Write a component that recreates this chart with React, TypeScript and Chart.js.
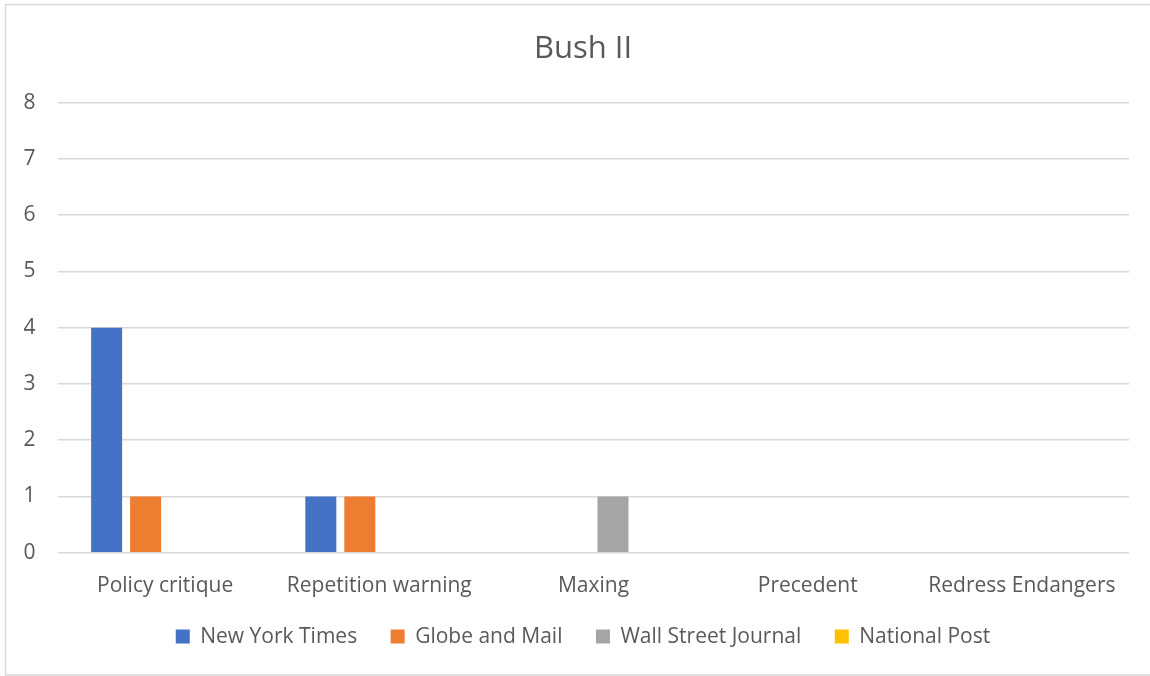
import { useEffect, useRef } from "react";
import { Chart, registerables } from "chart.js";

Chart.register(...registerables);

// Categories along the x axis
const categories = [
  "Policy critique",
  "Repetition warning",
  "Maxing",
  "Precedent",
  "Redress Endangers",
];

// One array of counts per newspaper
const newYorkTimes = [4, 1, 0, 0, 0];
const globeAndMail = [1, 1, 0, 0, 0];
const wallStreetJournal = [0, 0, 1, 0, 0];
const nationalPost = [0, 0, 0, 0, 0];

const seriesNames = ["New York Times", "Globe and Mail", "Wall Street Journal", "National Post"];
const seriesColors = ["#4472C4", "#ED7D31", "#A5A5A5", "#FFC000"];

// Value axis
const yMin = 0;
const yMax = 8;
const yStep = 1;

const chartTitle = "Bush II";

const FONT = "'Open Sans', 'Noto Sans', sans-serif";
const TEXT_COLOR = "#595959";
const GRID_COLOR = "#D9D9D9";

// Light frame around the whole chart
const framePlugin = {
  id: "frame",
  beforeDraw(chart: Chart) {
    const ctx = chart.ctx;
    ctx.save();
    ctx.fillStyle = "#FFFFFF";
    ctx.fillRect(0, 0, chart.width, chart.height);
    ctx.strokeStyle = GRID_COLOR;
    ctx.lineWidth = 1.5;
    ctx.strokeRect(5.5, 4.5, chart.width + 10, 670.5);
    ctx.restore();
  },
};

export default function App() {
  const canvasRef = useRef<HTMLCanvasElement | null>(null);

  useEffect(() => {
    if (!canvasRef.current) return;
    const seriesData = [newYorkTimes, globeAndMail, wallStreetJournal, nationalPost];
    const chart = new Chart(canvasRef.current, {
      type: "bar",
      data: {
        labels: categories,
        datasets: seriesNames.map((name, i) => ({
          label: name,
          data: seriesData[i],
          backgroundColor: seriesColors[i],
          borderWidth: 0,
          categoryPercentage: 0.728,
          barPercentage: 0.795,
        })),
      },
      options: {
        responsive: false,
        animation: false,
        devicePixelRatio: 1,
        layout: {
          padding: { left: 37, right: 21, top: 0, bottom: 18.9 },
        },
        plugins: {
          title: {
            display: true,
            text: chartTitle,
            color: TEXT_COLOR,
            font: { family: FONT, size: 31, weight: "normal", lineHeight: 1.2 },
            padding: { top: 31, bottom: 34.5 },
          },
          legend: {
            display: true,
            position: "bottom",
            labels: {
              color: TEXT_COLOR,
              font: { family: FONT, size: 21 },
              boxWidth: 14,
              boxHeight: 14,
              padding: 33.5,
            },
          },
          tooltip: { enabled: false },
        },
        scales: {
          x: {
            grid: { display: false },
            border: { display: false },
            ticks: {
              // mirrored so the labels are not clipped to the narrow axis box;
              // the negative padding puts them back below the plot
              mirror: true,
              color: TEXT_COLOR,
              font: { family: FONT, size: 21 },
              padding: -46,
              maxRotation: 0,
              autoSkip: false,
            },
            afterFit(scale: any) {
              scale.height = 39.9;
            },
          },
          y: {
            min: yMin,
            max: yMax,
            grid: { color: GRID_COLOR, lineWidth: 1.5, drawTicks: false },
            border: { display: false },
            ticks: {
              mirror: true,
              stepSize: yStep,
              color: TEXT_COLOR,
              font: { family: FONT, size: 21 },
              padding: -34.5,
            },
            afterFit(scale: any) {
              scale.width = 21;
            },
          },
        },
      } as any,
      plugins: [framePlugin],
    });
    return () => chart.destroy();
  }, []);

  return (
    <div style={{ position: "fixed", left: 0, top: 0, width: 1150, height: 676, background: "#fff" }}>
      <canvas ref={canvasRef} width={1150} height={676} style={{ display: "block" }} />
    </div>
  );
}
